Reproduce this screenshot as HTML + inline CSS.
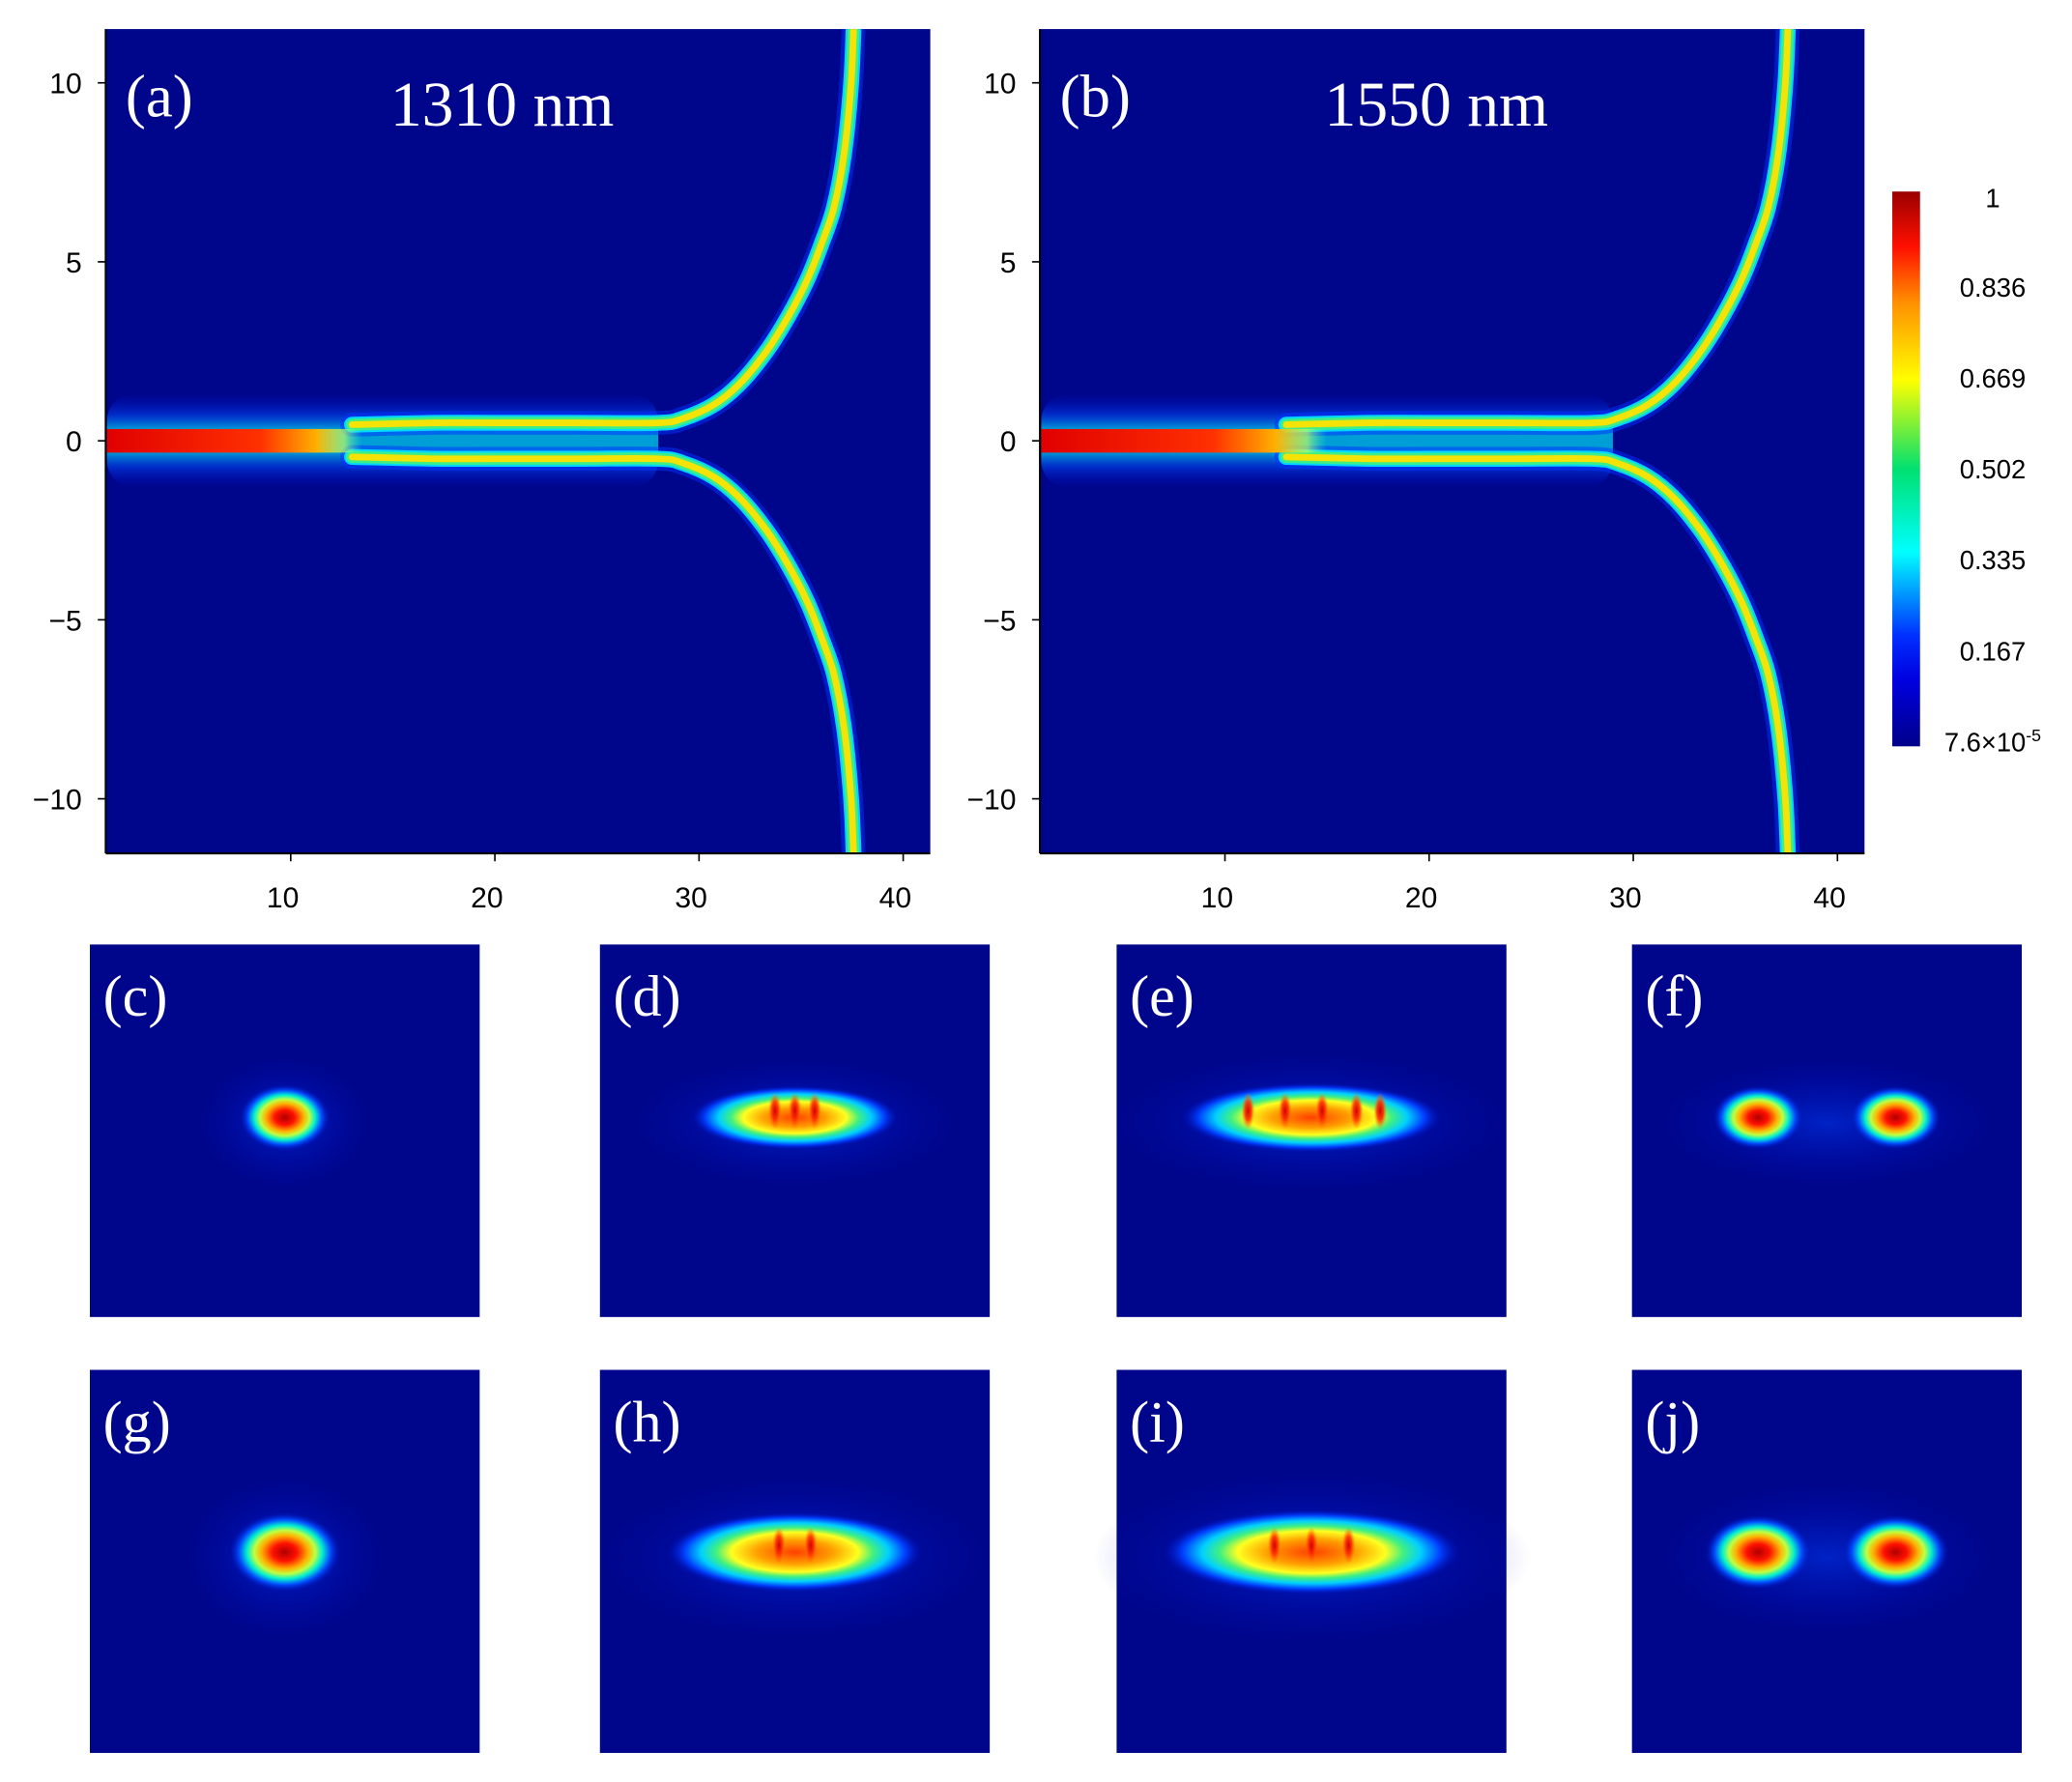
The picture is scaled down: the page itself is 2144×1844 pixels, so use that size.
<!DOCTYPE html>
<html><head><meta charset="utf-8"><style>
html,body{margin:0;padding:0;background:#fff;}
svg{display:block;}
text{font-family:"Liberation Sans",sans-serif;}
.ser{font-family:"Liberation Serif",serif;fill:#fff;}
</style></head><body>
<svg id="fig" xmlns="http://www.w3.org/2000/svg" width="2144" height="1844" viewBox="0 0 1568 1349" preserveAspectRatio="none">
<defs>
<linearGradient id="cbar" x1="0" y1="1" x2="0" y2="0">
<stop offset="0" stop-color="#00008a"/><stop offset="0.12" stop-color="#0000e0"/><stop offset="0.2" stop-color="#0030ff"/>
<stop offset="0.35" stop-color="#00ffff"/><stop offset="0.5" stop-color="#00e070"/><stop offset="0.66" stop-color="#ffff00"/>
<stop offset="0.8" stop-color="#ff9000"/><stop offset="0.9" stop-color="#ff1000"/><stop offset="1" stop-color="#9a0000"/>
</linearGradient>
<linearGradient id="core" x1="0" y1="0" x2="1" y2="0">
<stop offset="0" stop-color="#e00000"/><stop offset="0.6" stop-color="#ff3000"/><stop offset="0.82" stop-color="#ffb000"/><stop offset="0.93" stop-color="#c0ff60" stop-opacity="0.7"/><stop offset="1" stop-color="#40ffc0" stop-opacity="0"/>
</linearGradient>
<linearGradient id="halo" x1="0" y1="0" x2="0" y2="1">
<stop offset="0" stop-color="#0010e0" stop-opacity="0"/><stop offset="0.22" stop-color="#0050ff" stop-opacity="0.7"/><stop offset="0.38" stop-color="#00d0f0"/><stop offset="0.62" stop-color="#00d0f0"/><stop offset="0.78" stop-color="#0050ff" stop-opacity="0.7"/><stop offset="1" stop-color="#0010e0" stop-opacity="0"/>
</linearGradient>
<radialGradient id="jet">
<stop offset="0" stop-color="#b00000"/><stop offset="0.22" stop-color="#ff1000"/><stop offset="0.42" stop-color="#ffb000"/><stop offset="0.55" stop-color="#c0ff40"/><stop offset="0.68" stop-color="#00f0d0"/><stop offset="0.82" stop-color="#0050ff"/><stop offset="1" stop-color="#0010c0" stop-opacity="0"/>
</radialGradient>
<radialGradient id="jetw">
<stop offset="0" stop-color="#ff4000"/><stop offset="0.3" stop-color="#ffa000"/><stop offset="0.5" stop-color="#ffff20"/><stop offset="0.62" stop-color="#40f080"/><stop offset="0.74" stop-color="#00d0ff"/><stop offset="0.87" stop-color="#0040ff"/><stop offset="1" stop-color="#0010c0" stop-opacity="0"/>
</radialGradient>
<radialGradient id="glow">
<stop offset="0" stop-color="#0040ff" stop-opacity="0.9"/><stop offset="0.6" stop-color="#0020e0" stop-opacity="0.4"/><stop offset="1" stop-color="#0010c0" stop-opacity="0"/>
</radialGradient>
<radialGradient id="spike">
<stop offset="0" stop-color="#d00000"/><stop offset="0.5" stop-color="#ff3000" stop-opacity="0.9"/><stop offset="1" stop-color="#ff8000" stop-opacity="0"/>
</radialGradient>
<clipPath id="clipA"><rect x="80" y="22" width="624" height="624"/></clipPath>
<clipPath id="clipB"><rect x="787" y="22" width="624" height="624"/></clipPath>
</defs>
<g id="main"></g>
</svg>
<script>
// ---- data ----
const xTicks = [10, 20, 30, 40];
const yTicks = [10, 5, 0, -5, -10];
const yTickLabels = ["10", "5", "0", "\u22125", "\u221210"];
const armX = [13, 17, 20, 24, 28, 29.2, 30.7, 32, 33.3, 34.4, 35.3, 36.0, 36.6, 37.1, 37.45, 37.6];
const armY = [0.45, 0.5, 0.5, 0.5, 0.5, 0.62, 1.0, 1.6, 2.5, 3.5, 4.5, 5.5, 6.5, 8.0, 10.0, 12];
const inputEnd = [13.5, 15];
const splitEnd = [28, 29];
const panelTitles = ["1310 nm", "1550 nm"];
const panelLetters = ["(a)", "(b)"];
const cbValues = [1, 0.836, 0.669, 0.502, 0.335, 0.167, 0.0000760];
const cbLabels = ["1", "0.836", "0.669", "0.502", "0.335", "0.167", "7.6\u00d710"];
const modeLetters = ["(c)","(d)","(e)","(f)","(g)","(h)","(i)","(j)"];
const modeLobes = [[0],[0],[0],[-52,52],[0],[0],[0],[-52,52]];
const modeRx = [34,78,98,34,42,96,112,40];
const modeRy = [25,24,26,24,30,30,32,28];
const modeSpikes = [[],[-15,0,15],[-48,-20,8,34,52],[],[],[-12,12],[-28,0,28],[]];

const NS = "http://www.w3.org/2000/svg";
const root = document.getElementById('main');
function mk(tag, attrs, parent){ const e=document.createElementNS(NS,tag); for(const k in attrs) e.setAttribute(k,attrs[k]); (parent||root).appendChild(e); return e; }
function smooth(pts){
  let d = 'M' + pts[0][0].toFixed(1) + ',' + pts[0][1].toFixed(1);
  for (let k = 0; k < pts.length - 1; k++) {
    const p0 = pts[Math.max(k-1,0)], p1 = pts[k], p2 = pts[k+1], p3 = pts[Math.min(k+2, pts.length-1)];
    const c1 = [p1[0] + (p2[0]-p0[0])/6, p1[1] + (p2[1]-p0[1])/6];
    const c2 = [p2[0] - (p3[0]-p1[0])/6, p2[1] - (p3[1]-p1[1])/6];
    d += 'C' + c1.map(v=>v.toFixed(1)).join(',') + ' ' + c2.map(v=>v.toFixed(1)).join(',') + ' ' + p2[0].toFixed(1) + ',' + p2[1].toFixed(1);
  }
  return d;
}

const panels = [{x0:80, clip:'clipA', xOrigin:65.5}, {x0:787, clip:'clipB', xOrigin:772.5}];
const W = 624, panelTop = 22, unitX = 15.45;
const yS = v => 333.7 - v*27.1;

panels.forEach((p, i) => {
  const xS = v => p.xOrigin + v*unitX;
  const bg = mk('rect', {x:p.x0, y:panelTop, width:W, height:W, fill:'#00068c'});
  
  
  const g = mk('g', {'clip-path':'url(#'+p.clip+')'});
  const hx0 = xS(1), hx1 = xS(splitEnd[i]);
  const h = mk('rect', {x:hx0, y:yS(1.3), width:hx1-hx0, height:yS(-1.3)-yS(1.3), rx:20, fill:'url(#halo)', opacity:0.75}, g);
  
  
  [1, -1].forEach(s => {
    const pts = armX.map((vx, k) => [xS(vx), yS(s*armY[k])]);
    const d = smooth(pts);
    const widths = [18, 12, 9, 5], cols = ['#0030ff', '#00e0ff', '#40f080', '#ffe000'];
    widths.forEach((w, k) => {
      const path = mk('path', {d:d, fill:'none', stroke:cols[k], 'stroke-width':w, 'stroke-linecap':'round', opacity: k===0?0.5:0.95}, g);
      
      
    });
  });
  const cx0 = xS(1), cx1 = xS(inputEnd[i]);
  const core = mk('rect', {x:cx0, y:yS(0.33), width:cx1-cx0, height:yS(-0.33)-yS(0.33), fill:'url(#core)'}, g);
  
  
  const ax = mk('line', {x1:p.x0, y1:panelTop+W, x2:p.x0+W, y2:panelTop+W, stroke:'#000', 'stroke-width':1.5});
   
  const ay = mk('line', {x1:p.x0, y1:panelTop, x2:p.x0, y2:panelTop+W, stroke:'#000', 'stroke-width':1.5});
   
  xTicks.forEach(t => {
    mk('line', {x1:xS(t), y1:panelTop+W, x2:xS(t), y2:panelTop+W+6, stroke:'#000', 'stroke-width':1.2});
    const tl = mk('text', {x:xS(t)-6, y:panelTop+W+41, 'font-size':22, 'text-anchor':'middle', fill:'#000'});
    tl.textContent = t;
     
  });
  yTicks.forEach((t, k) => {
    mk('line', {x1:p.x0-6, y1:yS(t), x2:p.x0, y2:yS(t), stroke:'#000', 'stroke-width':1.2});
    const tl = mk('text', {x:p.x0-18, y:yS(t)+8, 'font-size':22, 'text-anchor':'end', fill:'#000'});
    tl.textContent = yTickLabels[k];
     
  });
  const lt = mk('text', {x:p.x0+15, y:88, 'font-size':46, class:'ser'});
  lt.textContent = panelLetters[i];
   
  const tt = mk('text', {x:p.x0+300, y:95, 'font-size':48, 'text-anchor':'middle', class:'ser'});
  tt.textContent = panelTitles[i];
   
});

const cbTop = 145, cbBot = 565;
const cb = mk('rect', {x:1432, y:cbTop, width:21, height:cbBot-cbTop, fill:'url(#cbar)'});
 
const cbS = v => cbBot - 4 - v*(cbBot - cbTop - 8);
cbValues.forEach((v, k) => {
  const t = mk('text', {x:1508, y:cbS(v)+8, 'font-size':20, 'text-anchor':'middle', fill:'#000'});
  t.textContent = cbLabels[k];
  if (k === cbValues.length - 1) {
    const sup = mk('tspan', {dy:-8, 'font-size':13}, t); sup.textContent = '-5';
  }
   
});

const colX = [68, 454, 845, 1235], colW = 295;
const rowY = [715, 1037], rowH = [282, 290], modeYOff = [131, 138];
modeLetters.forEach((L, i) => {
  const r = Math.floor(i/4), c = i % 4;
  const x0 = colX[c], y0 = rowY[r];
  const g = mk('g', {});
  
  
  mk('rect', {x:x0, y:y0, width:colW, height:rowH[r], fill:'#00068c'}, g);
  const cx = x0 + colW/2, cy = y0 + modeYOff[r];
  const broad = modeLobes[i].length === 1 && modeRx[i] > 60;
  const gw = modeLobes[i].length > 1 ? 105 : modeRx[i] * 1.3;
  mk('ellipse', {cx:cx, cy:cy+4, rx:gw + 20, ry:modeRy[i]*2, fill:'url(#glow)', opacity:0.55}, g);
  modeLobes[i].forEach(o => {
    mk('ellipse', {cx:cx+o, cy:cy, rx:modeRx[i], ry:modeRy[i], fill: broad ? 'url(#jetw)' : 'url(#jet)'}, g);
  });
  modeSpikes[i].forEach(o => {
    mk('ellipse', {cx:cx+o, cy:cy-5, rx:5, ry:14, fill:'url(#spike)'}, g);
  });
  const lt = mk('text', {x:x0+10, y:y0+54, 'font-size':44, class:'ser'}, g);
  lt.textContent = L;
});
</script>
</body></html>
